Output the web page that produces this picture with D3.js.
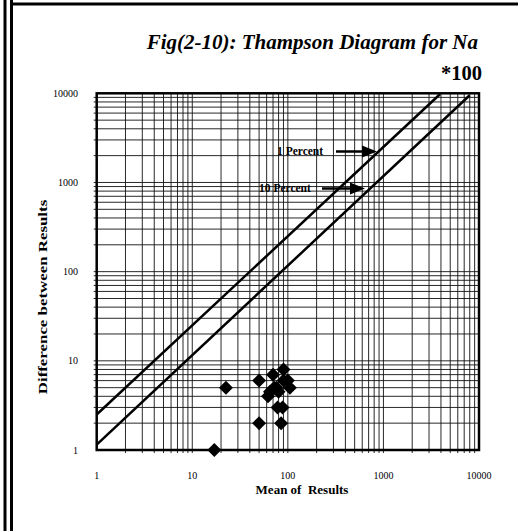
<!DOCTYPE html>
<html><head><meta charset="utf-8">
<script src="https://cdn.jsdelivr.net/npm/d3@7"></script>
<style>body{margin:0;background:#fff}svg{display:block}text{white-space:pre}</style>
</head><body>
<svg id="c" width="518" height="531"></svg>
<script>
const meanValues = [17, 22.5, 50, 50, 62, 65, 70, 72, 76, 78, 80, 85, 88, 90, 90, 100, 105];
const diffValues = [1, 5, 2, 6, 4, 4.5, 7, 5, 5, 3, 4.5, 2, 3, 8, 6, 6, 5];
const line1Percent = [[1, 2.5], [3900, 9750]];
const line10Percent = [[1, 1.15], [8000, 9500]];
const tickLabels = [1, 10, 100, 1000, 10000];
const titleText = "Fig(2-10): Thampson Diagram for Na";
const scaleNote = "*100";

const svg = d3.select("#c");
const L = 96.7, R = 479, T = 93.3, B = 450;
const x = d3.scaleLog().domain([1, 10000]).range([L, R]);
const y = d3.scaleLog().domain([1, 10000]).range([B, T]);
const serif = "'Liberation Serif', 'Times New Roman', serif";

// outer frame
svg.append("line").attr("x1",5).attr("x2",5).attr("y1",0).attr("y2",531).attr("stroke","#000").attr("stroke-width",3);
svg.append("line").attr("x1",11.5).attr("x2",11.5).attr("y1",0).attr("y2",531).attr("stroke","#000").attr("stroke-width",3);
svg.append("line").attr("x1",10).attr("x2",518).attr("y1",4).attr("y2",4).attr("stroke","#000").attr("stroke-width",3);

// grid
const minor = [];
for (let d = 1; d < 10000; d *= 10) for (let k = 1; k < 10; k++) minor.push(d * k);
const inner = minor.filter(v => v > 1 && v < 10000);
const g = svg.append("g");
g.selectAll(".vx").data(inner).enter().append("line")
  .attr("x1", d => x(d)).attr("x2", d => x(d)).attr("y1", T).attr("y2", B + 3)
  .attr("stroke", "#111").attr("stroke-width", 0.9);
g.selectAll(".hy").data(inner).enter().append("line")
  .attr("x1", L - 3).attr("x2", R).attr("y1", d => y(d)).attr("y2", d => y(d))
  .attr("stroke", "#111").attr("stroke-width", 0.9);

// frame of plot
svg.append("rect").attr("x", L).attr("y", T).attr("width", R - L).attr("height", B - T)
  .attr("fill", "none").attr("stroke", "#000").attr("stroke-width", 2.5);

// tick labels
svg.selectAll(".yl").data(tickLabels).enter().append("text")
  .attr("x", 78).attr("y", d => y(d) + 3.5).attr("text-anchor", "end")
  .attr("font-family", serif).attr("font-size", 10).text(d => d);
svg.selectAll(".xl").data(tickLabels).enter().append("text")
  .attr("x", d => x(d)).attr("y", 478.5).attr("text-anchor", "middle")
  .attr("font-family", serif).attr("font-size", 10).text(d => d);

// axis titles
svg.append("text").attr("x", 302).attr("y", 494).attr("text-anchor", "middle")
  .attr("font-family", serif).attr("font-weight", "bold").attr("font-size", 13)
  .text("Mean of  Results");
svg.append("text").attr("transform", "translate(47,297) rotate(-90) scale(1.25,1)").attr("text-anchor", "middle")
  .attr("font-family", serif).attr("font-weight", "bold").attr("font-size", 13.5)
  .text("Difference between Results");

// title
svg.append("text").attr("x", 478).attr("y", 48.5).attr("text-anchor", "end")
  .attr("font-family", serif).attr("font-weight", "bold").attr("font-style", "italic")
  .attr("font-size", 21).text(titleText);
svg.append("text").attr("x", 482).attr("y", 80).attr("text-anchor", "end")
  .attr("font-family", serif).attr("font-weight", "bold")
  .attr("font-size", 20.5).text(scaleNote);

// lines
const lineGen = d3.line().x(d => x(d[0])).y(d => y(d[1]));
[line1Percent, line10Percent].forEach(dat => {
  svg.append("path").datum(dat).attr("d", lineGen).attr("fill", "none")
    .attr("stroke", "#000").attr("stroke-width", 2.5);
});

// points
const pts = meanValues.map((m, i) => [m, diffValues[i]]);
svg.selectAll(".pt").data(pts).enter().append("path")
  .attr("transform", d => `translate(${x(d[0])},${y(d[1])})`)
  .attr("d", "M0,-7L7,0L0,7L-7,0Z").attr("fill", "#000");

// annotations
function ann(label, tx, ty, ax1, ax2, ay) {
  svg.append("text").attr("x", tx).attr("y", ty).attr("font-family", serif)
    .attr("font-weight", "bold").attr("font-size", 11.5).text(label);
  svg.append("line").attr("x1", ax1).attr("x2", ax2 - 12).attr("y1", ay).attr("y2", ay)
    .attr("stroke", "#000").attr("stroke-width", 2.5);
  svg.append("path").attr("d", `M${ax2},${ay}L${ax2 - 15},${ay - 6}L${ax2 - 15},${ay + 6}Z`).attr("fill", "#000");
}
ann("1 Percent", 277, 154.5, 336, 377, 151.5);
ann("10 Percent", 259, 191.5, 322, 365, 188.5);
</script>
</body></html>
